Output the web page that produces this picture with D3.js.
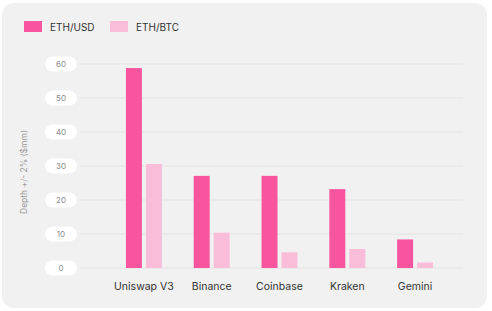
<!DOCTYPE html>
<html>
<head>
<meta charset="utf-8">
<script src="https://cdn.jsdelivr.net/npm/d3@7"></script>
<style>
  body { margin: 0; background: #fff; font-family: Inter, "Open Sans", sans-serif; }
  svg { display: block; }
</style>
</head>
<body>
<svg id="chart" width="492" height="311"></svg>
<script>
// data
const exchanges = ["Uniswap V3", "Binance", "Coinbase", "Kraken", "Gemini"];
const series = ["ETH/USD", "ETH/BTC"];
const ethUsd = [58.8, 27.1, 27.1, 23.2, 8.4];
const ethBtc = [30.6, 10.4, 4.6, 5.6, 1.6];
const yTicks = [0, 10, 20, 30, 40, 50, 60];
const colors = ["#f7559d", "#f9bcd9"];

const svg = d3.select("#chart");

// card background
svg.append("rect")
  .attr("x", 2).attr("y", 3)
  .attr("width", 485).attr("height", 305)
  .attr("rx", 12)
  .attr("fill", "#f1f1f1");

const y = d3.scaleLinear().domain([0, 60]).range([268, 64]);

const x0 = d3.scaleBand()
  .domain(exchanges)
  .range([110, 449])
  .paddingInner(0.47)
  .paddingOuter(0.235);

const x1 = d3.scaleBand()
  .domain(series)
  .range([0, x0.bandwidth()])
  .paddingInner(0.2);

// gridlines
svg.append("g")
  .selectAll("line")
  .data(yTicks)
  .join("line")
  .attr("x1", 80).attr("x2", 463)
  .attr("y1", d => y(d)).attr("y2", d => y(d))
  .attr("stroke", "#e3e3e3")
  .attr("stroke-width", 1);

// y tick pills
const tick = svg.append("g")
  .selectAll("g")
  .data(yTicks)
  .join("g")
  .attr("transform", d => `translate(61,${y(d)})`);

tick.append("rect")
  .attr("x", -16).attr("y", -7.5)
  .attr("width", 32).attr("height", 15)
  .attr("rx", 7.5)
  .attr("fill", "#fff");

tick.append("text")
  .attr("text-anchor", "middle")
  .attr("dy", "0.35em")
  .attr("font-size", 8)
  .attr("fill", "#8c8c8c")
  .text(d => d);

// y axis title
svg.append("text")
  .attr("transform", "translate(27,172) rotate(-90)")
  .attr("text-anchor", "middle")
  .attr("font-size", 8.5)
  .attr("fill", "#9a9a9a")
  .text("Depth +/- 2% ($mm)");

// bars
const rows = exchanges.map((e, i) => ({ name: e, values: [ethUsd[i], ethBtc[i]] }));

const group = svg.append("g")
  .selectAll("g")
  .data(rows)
  .join("g")
  .attr("transform", d => `translate(${x0(d.name)},0)`);

group.selectAll("rect")
  .data(d => d.values.map((v, i) => ({ key: series[i], value: v, i })))
  .join("rect")
  .attr("x", d => x1(d.key))
  .attr("width", x1.bandwidth())
  .attr("y", d => y(d.value))
  .attr("height", d => y(0) - y(d.value))
  .attr("fill", d => colors[d.i]);

// x labels
svg.append("g")
  .selectAll("text")
  .data(exchanges)
  .join("text")
  .attr("x", d => x0(d) + x0.bandwidth() / 2)
  .attr("y", 290)
  .attr("text-anchor", "middle")
  .attr("font-size", 10.5)
  .attr("fill", "#333")
  .text(d => d);

// legend
const legend = svg.append("g")
  .selectAll("g")
  .data(series)
  .join("g")
  .attr("transform", (d, i) => `translate(${24 + i * 86},21)`);

legend.append("rect")
  .attr("width", 18).attr("height", 11)
  .attr("fill", (d, i) => colors[i]);

legend.append("text")
  .attr("x", 26).attr("y", 9.5)
  .attr("font-size", 10)
  .attr("fill", "#333")
  .text(d => d);
</script>
</body>
</html>
